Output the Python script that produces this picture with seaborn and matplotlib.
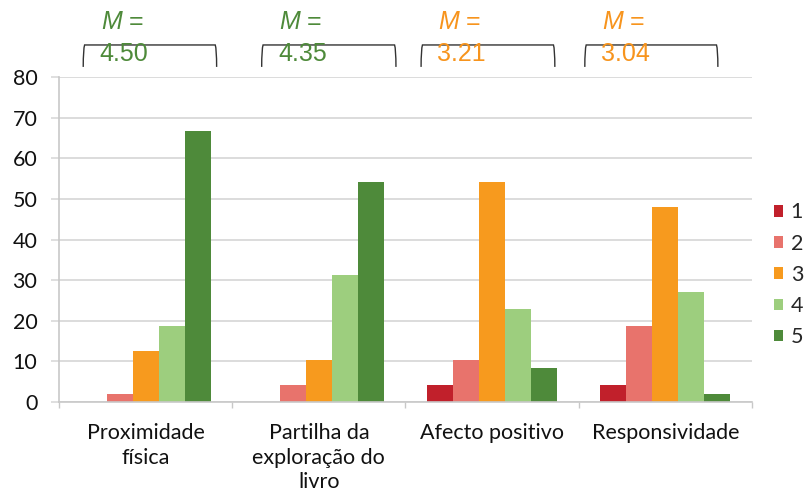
import matplotlib
matplotlib.use("Agg")
import matplotlib.pyplot as plt
from matplotlib.patches import Patch, PathPatch
from matplotlib.path import Path
from matplotlib.transforms import blended_transform_factory
import seaborn as sns
import pandas as pd

# Percentage of responses per rating (1-5) for each dimension
categories = ["Proximidade\nfísica", "Partilha da\nexploração do\nlivro",
              "Afecto positivo", "Responsividade"]
ratings = ["1", "2", "3", "4", "5"]
values = {
    "1": [0.00, 0.00, 4.17, 4.17],
    "2": [2.08, 4.17, 10.42, 18.75],
    "3": [12.50, 10.42, 54.17, 47.92],
    "4": [18.75, 31.25, 22.92, 27.08],
    "5": [66.67, 54.17, 8.33, 2.08],
}
means = ["4.50", "4.35", "3.21", "3.04"]
mean_colors = ["#4E8A3A", "#4E8A3A", "#F7941D", "#F7941D"]
palette = ["#C1202B", "#E8736C", "#F79A1E", "#9DCE7E", "#4E8A3A"]
yticks = [0, 10, 20, 30, 40, 50, 60, 70, 80]

rows = []
for r in ratings:
    for c, v in zip(categories, values[r]):
        rows.append({"categoria": c, "nota": r, "pct": v})
df = pd.DataFrame(rows)

sns.set_theme(style="white")
plt.rcParams["font.family"] = ["Lato", "DejaVu Sans"]
plt.rcParams["mathtext.fontset"] = "custom"
plt.rcParams["mathtext.it"] = "Liberation Sans:italic"
plt.rcParams["mathtext.rm"] = "Liberation Sans"

fig = plt.figure(figsize=(8.10, 4.97), dpi=100)
ax = fig.add_axes([0.0728, 0.1911, 0.8556, 0.654])

sns.barplot(data=df, x="categoria", y="pct", hue="nota", order=categories,
            hue_order=ratings, palette=palette, saturation=1, width=0.75,
            gap=0, linewidth=0, errorbar=None, ax=ax, legend=False)

ax.set_xlim(-0.5, len(categories) - 0.5)
ax.set_ylim(0, 80)
ax.set_yticks(yticks)
ax.set_xlabel("")
ax.set_ylabel("")

grid_c = "#D9D9D9"
ax.yaxis.grid(True, color=grid_c, linewidth=1.3)
ax.set_axisbelow(True)
for s in ["top", "right"]:
    ax.spines[s].set_visible(False)
for s in ["left", "bottom"]:
    ax.spines[s].set_color("#C8C8C8")
    ax.spines[s].set_linewidth(1.2)

ax.tick_params(axis="y", which="major", left=True, length=5.5, width=1.2,
               color=grid_c, pad=10, labelsize=15.5, labelcolor="#111111")
ax.tick_params(axis="x", which="major", bottom=False, pad=9, labelsize=15.5,
               labelcolor="#111111")
ax.set_xticks([i - 0.5 for i in range(len(categories) + 1)], minor=True)
ax.tick_params(axis="x", which="minor", bottom=True, length=4.5, width=1.0,
               color="#C8C8C8")
for lbl in ax.get_xticklabels():
    lbl.set_linespacing(1.3)
    lbl.set_verticalalignment("top")

# Mean brackets above each group
trans = blended_transform_factory(ax.transData, ax.transAxes)
left_off = [-0.36, -0.33, -0.41, -0.465]
right_off = [0.41, 0.445, 0.362, 0.303]
y_top, y_bot = 1.0985, 1.031
eps = 0.008
for i, (m, col) in enumerate(zip(means, mean_colors)):
    l, r = i + left_off[i], i + right_off[i]
    verts = [(l, y_bot), (l, y_top - 0.012), (l + eps, y_top),
             (r - eps, y_top),
             (r, y_top - 0.012), (r, y_bot)]
    codes = [Path.MOVETO, Path.CURVE3, Path.CURVE3,
             Path.LINETO, Path.CURVE3, Path.CURVE3]
    ax.add_patch(PathPatch(Path(verts, codes), transform=trans, fill=False,
                           edgecolor="#333333", linewidth=1.0, clip_on=False))
    ax.text(l + 0.1, 1.169, r"$M$ =", transform=trans, color=col,
            fontsize=18, family="Liberation Sans", ha="left", va="center")
    ax.text(l + 0.094, 1.071, m, transform=trans, color=col,
            fontsize=18, family="Liberation Sans", ha="left", va="center")

handles = [Patch(facecolor=c, edgecolor="none", label=r)
           for c, r in zip(palette, ratings)]
fig.legend(handles=handles, loc="center left", bbox_to_anchor=(0.955, 0.447),
           bbox_transform=fig.transFigure, frameon=False, fontsize=15.5,
           handlelength=0.45, handleheight=0.45, handletextpad=0.35,
           labelspacing=0.52, borderpad=0, borderaxespad=0)

fig.savefig("out.png", dpi=100)
